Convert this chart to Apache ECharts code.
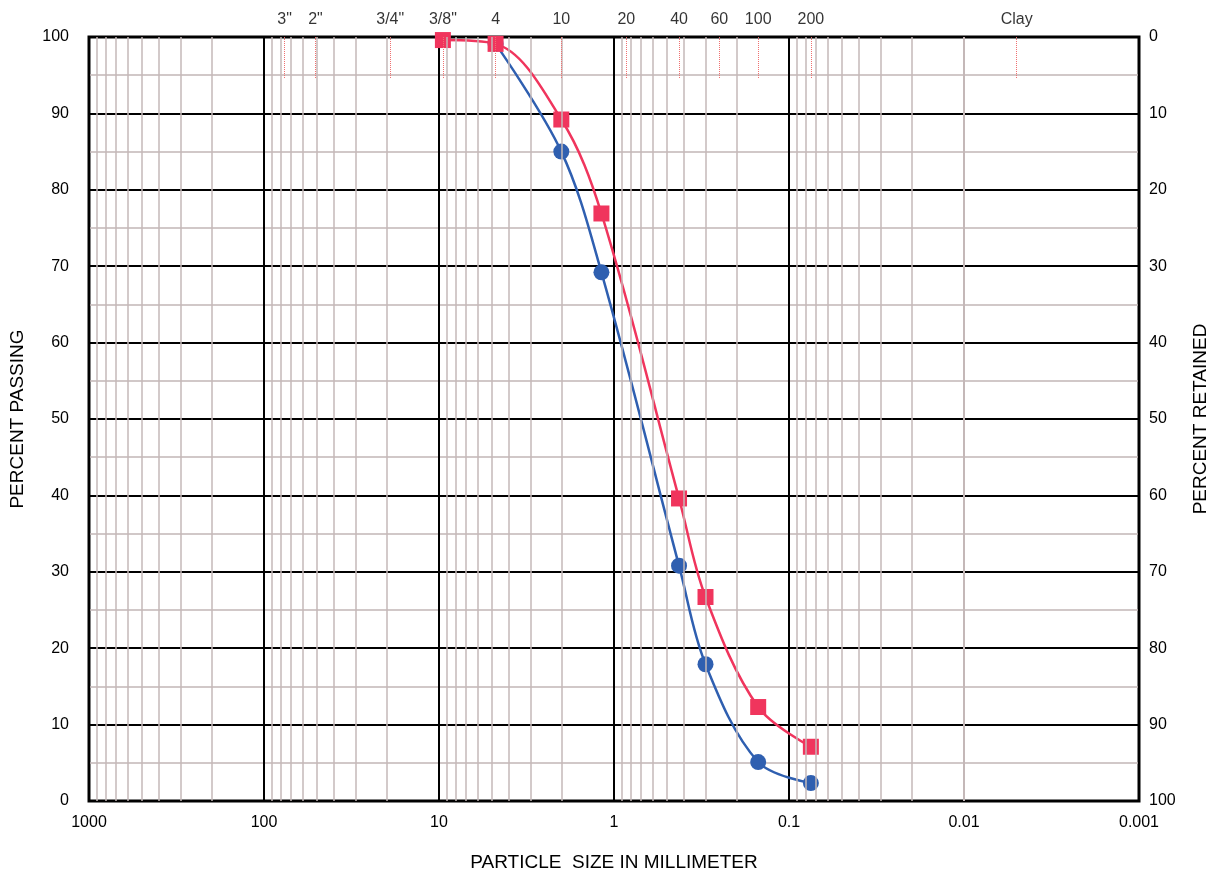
<!DOCTYPE html>
<html>
<head>
<meta charset="utf-8">
<title>Grain size</title>
<script src="https://cdn.jsdelivr.net/npm/echarts@6/dist/echarts.min.js"></script>
<style>
  html, body { margin: 0; padding: 0; background: #fff; }
  #main { width: 1218px; height: 880px; }
</style>
</head>
<body>
<div id="main"></div>
<script>
// sieve marks along the top (size in mm)
var sieveNames = ['3"', '2"', '3/4"', '3/8"', '4', '10', '20', '40', '60', '100', '200', 'Clay'];
var sieveSizes = [76.2, 50.8, 19.0, 9.5, 4.75, 2.0, 0.85, 0.425, 0.25, 0.15, 0.075, 0.005];

// sample curves
var redSizes = [9.5, 4.75, 2.0, 1.18, 0.425, 0.3, 0.15, 0.075];
var redPassing = [99.6, 99.1, 89.2, 76.9, 39.6, 26.7, 12.3, 7.1];
var blueSizes = [4.75, 2.0, 1.18, 0.425, 0.3, 0.15, 0.075];
var bluePassing = [99.1, 85.0, 69.2, 30.8, 17.9, 5.1, 2.35];

var decades = [100, 10, 1, 0.1, 0.01, 0.001];

function pairs(xs, ys) {
  var out = [];
  for (var i = 0; i < xs.length; i++) out.push([xs[i], ys[i]]);
  return out;
}

// minor vertical lines 2..9 in every decade
var minorLines = [];
decades.forEach(function (d) {
  for (var k = 2; k <= 9; k++) minorLines.push({ xAxis: +(d * k).toPrecision(3) });
});

var sieveTicks = [];
var sievePoints = [];
for (var i = 0; i < sieveSizes.length; i++) {
  sieveTicks.push([{ coord: [sieveSizes[i], 100] }, { coord: [sieveSizes[i], 94.5] }]);
  sievePoints.push({ value: [sieveSizes[i], 100], name: sieveNames[i] });
}

var font = '"Liberation Sans", Arial, sans-serif';
var chart = echarts.init(document.getElementById('main'));
chart.setOption({
  animation: false,
  grid: { left: 89, right: 74, top: 37, bottom: 79, show: true, borderColor: '#000', borderWidth: 3, backgroundColor: '#fff' },
  xAxis: {
    type: 'log', logBase: 10, min: 0.001, max: 1000, inverse: true,
    name: 'PARTICLE  SIZE IN MILLIMETER', nameLocation: 'middle', nameGap: 52,
    nameTextStyle: { color: '#000', fontSize: 19, fontFamily: font },
    axisLine: { show: false }, axisTick: { show: false },
    axisLabel: { color: '#000', fontSize: 16, fontFamily: font, margin: 14,
      formatter: function (v) { return String(+(+v).toPrecision(3)); } },
    splitLine: { show: true, lineStyle: { color: '#000', width: 2 } }
  },
  yAxis: [{
    type: 'value', min: 0, max: 100, interval: 10, position: 'left',
    name: 'PERCENT PASSING', nameLocation: 'middle', nameGap: 62, nameRotate: 90,
    nameTextStyle: { color: '#000', fontSize: 19, fontFamily: font },
    axisLine: { show: false }, axisTick: { show: false },
    axisLabel: { color: '#000', fontSize: 16, fontFamily: font, margin: 20 },
    splitLine: { show: true, lineStyle: { color: '#000', width: 2 } },
    minorTick: { show: false, splitNumber: 2 },
    minorSplitLine: { show: true, lineStyle: { color: '#c2b6b6', width: 1.5 } }
  }, {
    type: 'value', min: 0, max: 100, interval: 10, position: 'right', inverse: true,
    name: 'PERCENT RETAINED', nameLocation: 'middle', nameGap: 52, nameRotate: 90,
    nameTextStyle: { color: '#000', fontSize: 19, fontFamily: font },
    axisLine: { show: false }, axisTick: { show: false },
    axisLabel: { color: '#000', fontSize: 16, fontFamily: font, margin: 10 },
    splitLine: { show: false }
  }],
  series: [{
    type: 'line', data: [], silent: true,
    markLine: { silent: true, symbol: 'none', label: { show: false },
      lineStyle: { color: '#c4b8b8', width: 1.5, type: 'solid' }, data: minorLines }
  }, {
    type: 'scatter', symbolSize: 0, silent: true, data: sievePoints,
    label: { show: true, position: 'top', distance: 9, color: '#000', fontSize: 16, fontFamily: font,
      formatter: function (p) { return p.name; } },
    markLine: { silent: true, symbol: 'none', label: { show: false },
      lineStyle: { color: '#f07070', width: 1, type: 'dotted' }, data: sieveTicks }
  }, {
    name: 'blue', type: 'line', smooth: 0.35, data: pairs(blueSizes, bluePassing),
    symbol: 'circle', symbolSize: 16,
    itemStyle: { color: '#2f5fb0' }, lineStyle: { color: '#2f5fb0', width: 2.5 }
  }, {
    name: 'red', type: 'line', smooth: 0.35, data: pairs(redSizes, redPassing),
    symbol: 'rect', symbolSize: 16,
    itemStyle: { color: '#f0355d' }, lineStyle: { color: '#f0355d', width: 2.5 }
  }]
});
</script>
</body>
</html>
